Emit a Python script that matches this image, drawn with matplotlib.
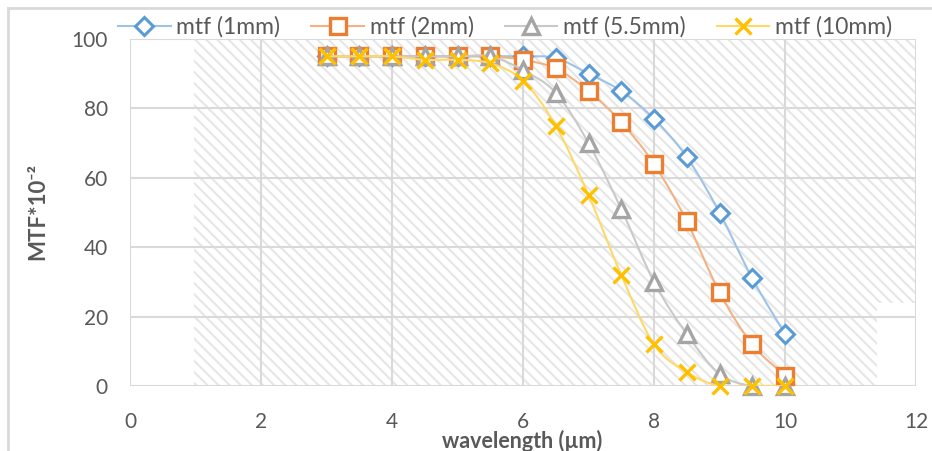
import numpy as np
import matplotlib
matplotlib.use("Agg")
import matplotlib.pyplot as plt
from matplotlib.path import Path
from matplotlib.patches import PathPatch, Polygon
from matplotlib.lines import Line2D

# ---- data ----
wavelength = [3, 3.5, 4, 4.5, 5, 5.5, 6, 6.5, 7, 7.5, 8, 8.5, 9, 9.5, 10]
mtf_1mm   = [95, 95, 95, 95, 95, 95, 95, 94.5, 90, 85, 77, 66, 50, 31, 15]
mtf_2mm   = [95, 95, 95, 95, 95, 95, 94, 91.5, 85, 76, 64, 47.5, 27, 12, 3]
mtf_5_5mm = [95, 95, 95, 95, 95, 95, 91, 84.5, 70, 51, 30, 15, 3.5, 0, 0]
mtf_10mm  = [95, 95, 95, 94, 94, 93, 88, 75, 55, 32, 12, 4, 0, 0, 0]
series_names = ["mtf (1mm)", "mtf (2mm)", "mtf (5.5mm)", "mtf (10mm)"]
x_ticks = [0, 2, 4, 6, 8, 10, 12]
y_ticks = [0, 20, 40, 60, 80, 100]

plt.rcParams['font.family'] = ['Lato', 'DejaVu Sans']
TXT = '#595959'
GRID = '#d9d9d9'

fig = plt.figure(figsize=(9.32, 4.51), dpi=100)
ax = fig.add_axes([130/932, 1-386/451, (916-130)/932, (386-39)/451])
ax.set_xlim(0, 12)
ax.set_ylim(0, 100)

# hatched background region (pasted-image look)
plt.rcParams['hatch.linewidth'] = 1.5
bg = Polygon([(0.97, 0), (11.4, 0), (11.4, 24), (12, 24), (12, 100), (0.97, 100)],
             closed=True, facecolor='white', edgecolor='#e6e6e6', hatch='\\\\\\',
             linewidth=0, zorder=0)
ax.add_patch(bg)

ax.set_xticks(x_ticks)
ax.set_yticks(y_ticks)
ax.grid(True, color=GRID, linewidth=1.5, zorder=1)
ax.set_axisbelow(True)
for s in ax.spines.values():
    s.set_visible(False)
ax.tick_params(length=0, labelsize=15, colors=TXT)
ax.tick_params(axis='y', pad=16)
ax.tick_params(axis='x', pad=19)


def smooth_path(xs, ys):
    pts = np.column_stack([xs, ys]).astype(float)
    n = len(pts)
    verts = [pts[0]]
    codes = [Path.MOVETO]
    for i in range(n - 1):
        p0 = pts[i - 1] if i > 0 else pts[i]
        p1 = pts[i]
        p2 = pts[i + 1]
        p3 = pts[i + 2] if i + 2 < n else pts[i + 1]
        c1 = p1 + (p2 - p0) / 6.0
        c2 = p2 - (p3 - p1) / 6.0
        verts += [c1, c2, p2]
        codes += [Path.CURVE4] * 3
    return Path(verts, codes)


styles = [
    dict(data=mtf_1mm, color='#5B9BD5', line='#9DC3E6', marker='D', ms=9, mew=2.2),
    dict(data=mtf_2mm, color='#ED7D31', line='#F4B183', marker='s', ms=11, mew=2.4),
    dict(data=mtf_5_5mm, color='#A5A5A5', line='#C9C9C9', marker='^', ms=11, mew=2.4),
    dict(data=mtf_10mm, color='#FFC000', line='#FFD966', marker='x', ms=11, mew=2.4),
]

handles = []
for k, st in enumerate(styles):
    pp = PathPatch(smooth_path(wavelength, st['data']), facecolor='none',
                   edgecolor=st['line'], linewidth=1.5, zorder=3 + 2*k)
    ax.add_patch(pp)
    fc = 'white' if st['marker'] != 'x' else st['color']
    ax.plot(wavelength, st['data'], linestyle='none', marker=st['marker'],
            markersize=st['ms'], markeredgewidth=st['mew'],
            markeredgecolor=st['color'], markerfacecolor=fc,
            zorder=4 + 2*k, clip_on=False)
    handles.append(Line2D([], [], color=st['line'], linewidth=1.5, marker=st['marker'],
                          markersize=st['ms'], markeredgewidth=st['mew'],
                          markeredgecolor=st['color'], markerfacecolor=fc,
                          label=series_names[k]))

leg = fig.legend(handles=handles, loc='center', bbox_to_anchor=(505/932, 1-27/451),
                 ncol=4, frameon=False, fontsize=16.5, handlelength=2.3,
                 handletextpad=0.25, columnspacing=1.35, labelcolor=TXT)

fig.text(522/932, 1-441/451, 'wavelength (µm)', ha='center', va='center',
         fontsize=15.5, fontweight='bold', color=TXT)
fig.text(38/932, 1-212/451, 'MTF*10⁻²', ha='center', va='center', rotation=90,
         fontsize=16, fontweight='bold', color=TXT)

# chart-area border (partially cropped)
fig.add_artist(Line2D([8/932, 8/932], [0, 1-8/451], color=GRID, linewidth=2,
                      transform=fig.transFigure))
fig.add_artist(Line2D([8/932, 1], [1-8/451, 1-8/451], color=GRID, linewidth=2,
                      transform=fig.transFigure))

fig.savefig('out.png', dpi=100)
